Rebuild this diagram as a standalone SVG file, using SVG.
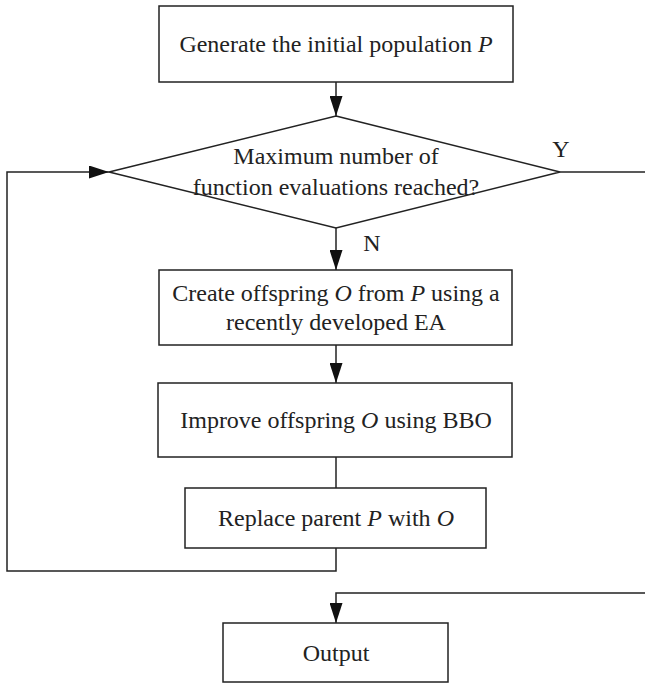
<svg xmlns="http://www.w3.org/2000/svg" width="645" height="684" viewBox="0 0 645 684">
<style>
.box{fill:#fff;stroke:#222;stroke-width:1.5}
.ln{fill:none;stroke:#222;stroke-width:1.5}
text{font-family:'Liberation Serif','DejaVu Serif',serif;font-size:24px;fill:#222;text-anchor:middle}
.i{font-style:italic}
</style>
<defs>
<marker id="ah" viewBox="0 0 20 13" refX="20" refY="6.5" markerWidth="20" markerHeight="13" markerUnits="userSpaceOnUse" orient="auto">
<path d="M0,0 L20,6.5 L0,13 Z" fill="#111"/>
</marker>
</defs>
<rect width="645" height="684" fill="#fff"/>
<g id="connectors">
<path class="ln" d="M336,82 V116" marker-end="url(#ah)"/>
<path class="ln" d="M336,228 V270" marker-end="url(#ah)"/>
<path class="ln" d="M336,345 V383" marker-end="url(#ah)"/>
<path class="ln" d="M336,457 V488"/>
<path class="ln" d="M336,548 V571 H7 V172 H109" marker-end="url(#ah)"/>
<path class="ln" d="M560,172 H645"/>
<path class="ln" d="M645,593 H336 V623" marker-end="url(#ah)"/>
<text x="561" y="157">Y</text>
<text x="372" y="251">N</text>
</g>
<g id="init">
<rect class="box" x="159" y="6" width="354" height="76"/>
<text x="336" y="52">Generate the initial population <tspan class="i">P</tspan></text>
</g>
<g id="decision">
<polygon class="box" points="336,116 560,172 336,228 109,172"/>
<text x="336" y="164">Maximum number of</text>
<text x="336" y="195">function evaluations reached?</text>
</g>
<g id="create">
<rect class="box" x="159" y="270" width="353" height="75"/>
<text x="336" y="301">Create offspring <tspan class="i">O</tspan> from <tspan class="i">P</tspan> using a</text>
<text x="336" y="330">recently developed EA</text>
</g>
<g id="improve">
<rect class="box" x="158" y="383" width="354" height="74"/>
<text x="336" y="428">Improve offspring <tspan class="i">O</tspan> using BBO</text>
</g>
<g id="replace">
<rect class="box" x="185" y="488" width="301" height="60"/>
<text x="336" y="526">Replace parent <tspan class="i">P</tspan> with <tspan class="i">O</tspan></text>
</g>
<g id="output">
<rect class="box" x="223" y="623" width="225" height="59"/>
<text x="336" y="661">Output</text>
</g>
</svg>
